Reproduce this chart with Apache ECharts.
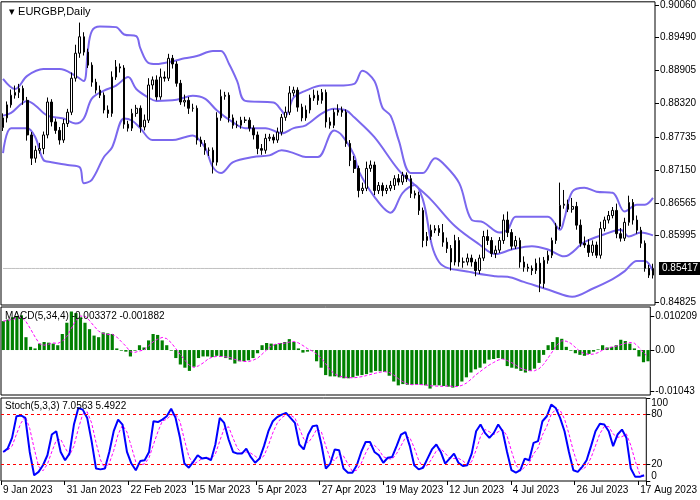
<!DOCTYPE html>
<html><head><meta charset="utf-8">
<script src="https://cdn.jsdelivr.net/npm/echarts@6/dist/echarts.min.js"></script>
<style>html,body{margin:0;padding:0;background:#fff}#c{width:700px;height:500px}</style>
</head><body><div id="c"></div>
<script>
// prices in units of 0.0001
const closes = [8807,8830,8847,8852,8859,8838,8777,8736,8750,8753,
8777,8835,8800,8785,8768,8797,8817,8877,8921,8950,
8923,8900,8870,8856,8847,8821,8815,8879,8897,8895,
8796,8789,8815,8824,8791,8803,8865,8874,8844,8879,
8877,8912,8902,8868,8835,8838,8824,8824,8768,8762,
8750,8750,8729,8807,8845,8847,8807,8794,8794,8803,
8803,8789,8777,8753,8750,8771,8773,8768,8782,8808,
8817,8851,8856,8826,8807,8821,8842,8847,8838,8852,
8800,8794,8817,8821,8817,8762,8732,8718,8679,8683,
8718,8724,8679,8688,8679,8683,8688,8700,8694,8706,
8700,8674,8671,8644,8591,8598,8609,8612,8605,8588,
8577,8553,8591,8553,8553,8560,8553,8538,8560,8598,
8591,8568,8574,8591,8627,8605,8581,8591,8553,8544,
8542,8538,8551,8515,8556,8565,8591,8616,8653,8655,
8646,8651,8618,8586,8583,8570,8583,8565,8612,8627,
8635,8644,8603,8595,8623,8658,8627,8609,8586,8542,
8530,8542];
const opens = [8790,8807,8830,8847,8852,8859,8838,8777,8736,8750,
8753,8777,8835,8800,8785,8768,8797,8817,8877,8921,
8950,8923,8900,8870,8856,8847,8821,8815,8879,8897,
8895,8796,8789,8815,8824,8791,8803,8865,8874,8844,
8879,8877,8912,8902,8868,8835,8838,8824,8824,8768,
8762,8750,8750,8729,8807,8845,8847,8807,8794,8794,
8803,8803,8789,8777,8753,8750,8771,8773,8768,8782,
8808,8817,8851,8856,8826,8807,8821,8842,8847,8838,
8852,8800,8794,8817,8821,8817,8762,8732,8718,8679,
8683,8718,8724,8679,8688,8679,8683,8688,8700,8694,
8706,8700,8674,8671,8644,8591,8598,8609,8612,8605,
8588,8577,8553,8591,8553,8553,8560,8553,8538,8560,
8598,8591,8568,8574,8591,8627,8605,8581,8591,8553,
8544,8542,8538,8551,8515,8556,8565,8591,8616,8653,
8655,8646,8651,8618,8586,8583,8570,8583,8565,8612,
8627,8635,8644,8603,8595,8623,8658,8627,8609,8586,
8542,8530];
const upWick = [8,6,10,12,8,5,6,5,8,10, 6,8,5,6,6,8,6,10,15,25, 8,6,5,6,8,5,8,10,12,6,
5,6,8,6,5,10,12,6,8,15, 10,8,6,5,6,10,6,8,5,6, 6,5,5,10,12,6,5,6,8,6,
6,5,5,6,8,8,6,5,8,6, 10,12,6,5,6,8,6,10,8,6, 5,8,6,10,6,5,6,8,5,10,
12,8,6,6,5,6,8,6,8,6, 5,6,5,6,5,8,10,6,6,15, 8,6,10,6,8,8,6,5,6,10,
12,6,8,6,10,15,6,8,5,10, 6,5,8,10,6,8,5,6,40,25, 8,15,8,10,12,10,8,6,12,6,
8,6,12,10,8,12,6,8,6,5, 6,8];
const downWick = [6,8,5,6,10,8,10,12,8,6, 10,6,8,6,8,5,6,5,6,8, 6,5,8,6,5,6,8,6,5,8,
8,6,5,6,10,6,5,8,6,5, 6,5,8,6,5,8,10,6,8,6, 8,10,20,6,5,6,8,6,5,6,
5,6,8,10,8,6,5,6,5,6, 6,5,6,8,6,5,6,5,8,6, 10,6,5,6,8,6,10,8,12,6,
5,6,8,6,10,6,5,8,6,5, 6,8,6,8,12,10,6,5,6,8, 8,15,6,8,10,6,8,10,6,5,
8,6,8,5,6,8,6,5,10,8, 6,8,6,15,8,6,5,6,5,6, 5,6,8,6,5,8,6,5,6,5,
6,5,8,6,5,6,8,6,8,6, 5,6];
// Bollinger band points [bar index, price*1e4]
const bbUpper = [[0,8876],[3,8858],[6,8881],[10,8893],[14,8893],[18,8881],[20,8872],[21,8925],[22,8960],[24,8968],[28,8967],[30,8954],[33,8951],[34,8930],[36,8904],[38,8902],[42,8907],[45,8912],[48,8916],[52,8925],[54,8925],[56,8902],[58,8872],[60,8837],[67,8834],[69,8820],[70,8811],[72,8843],[75,8855],[79,8864],[83,8864],[87,8867],[89,8890],[92,8872],[94,8825],[96,8811],[98,8768],[101,8710],[104,8710],[107,8736],[109,8727],[113,8692],[116,8628],[119,8623],[123,8605],[125,8610],[127,8633],[131,8633],[135,8633],[138,8610],[139,8628],[141,8677],[144,8684],[147,8677],[151,8675],[154,8642],[157,8654],[159,8654],[161,8666]];
const bbMiddle = [[0,8811],[2,8816],[6,8837],[8,8829],[11,8811],[15,8806],[18,8797],[20,8806],[22,8841],[25,8855],[28,8864],[31,8879],[33,8858],[36,8843],[38,8837],[43,8839],[47,8846],[50,8841],[53,8820],[57,8799],[60,8789],[65,8789],[69,8780],[72,8789],[75,8794],[79,8815],[82,8823],[85,8820],[87,8808],[92,8773],[98,8715],[102,8689],[106,8663],[112,8616],[118,8584],[122,8567],[126,8575],[131,8581],[135,8575],[139,8563],[144,8588],[149,8602],[153,8610],[155,8598],[158,8605],[161,8600]];
const bbLower = [[0,8745],[2,8789],[6,8789],[8,8773],[10,8733],[12,8729],[16,8724],[19,8720],[20,8692],[22,8698],[25,8738],[27,8755],[30,8806],[32,8802],[34,8789],[37,8768],[42,8768],[45,8773],[47,8776],[50,8755],[52,8720],[54,8710],[57,8729],[62,8738],[66,8741],[69,8750],[72,8745],[75,8738],[78,8738],[82,8785],[84,8776],[87,8741],[88,8715],[92,8668],[96,8640],[99,8675],[102,8689],[104,8663],[108,8553],[116,8535],[122,8528],[125,8527],[129,8518],[136,8502],[141,8492],[146,8506],[151,8523],[154,8537],[157,8555],[159,8555],[161,8537]];
// MACD histogram, units of 0.0001 (read)
const macdHist = [90,95,102,105,108,40,10,5,20,25,23,20,15,50,85,120,115,102,85,65,45,40,55,52,50,5,-2,-5,-20,-2,15,8,30,50,47,30,15,-2,-25,-45,-55,-65,-52,-25,-20,-20,-22,-18,-20,-25,-30,-42,-35,-35,-32,-25,-10,15,22,20,18,22,25,34,25,5,-8,-5,-2,-35,-55,-78,-82,-82,-85,-88,-88,-85,-80,-78,-75,-70,-65,-66,-68,-80,-98,-110,-106,-108,-108,-107,-108,-110,-120,-110,-110,-112,-114,-117,-112,-98,-85,-70,-60,-55,-42,-30,-28,-25,-28,-50,-55,-58,-65,-70,-65,-58,-40,-15,15,25,40,35,10,-2,-10,-15,-18,-12,-5,2,15,8,10,15,32,28,20,5,-20,-38,-35];
// Stochastic %K (read)
const stochK = [35,39,52,78,79,76,35,7,11,19,31,56,60,35,25,33,68,88,86,76,48,15,14,15,35,60,74,68,35,21,13,24,25,35,72,71,74,78,87,76,52,21,16,23,31,27,28,25,44,76,70,50,35,33,33,39,29,22,27,42,60,72,77,80,82,76,70,44,38,56,66,67,44,15,21,38,37,15,10,10,19,35,47,47,35,31,22,28,29,42,56,59,42,19,14,16,27,38,44,35,21,27,33,22,18,19,33,60,68,58,52,58,68,60,35,13,10,13,27,25,46,48,72,78,92,88,76,60,35,13,11,17,25,42,60,69,68,60,42,56,62,52,15,5,5,7];
const dateLabels = ['9 Jan 2023','31 Jan 2023','22 Feb 2023','15 Mar 2023','5 Apr 2023','27 Apr 2023','19 May 2023','12 Jun 2023','4 Jul 2023','26 Jul 2023','17 Aug 2023'];
const priceTicks = [0.90060,0.89490,0.88905,0.88320,0.87735,0.87150,0.86565,0.85995,0.84825];
const lastPrice = 0.85417;

const P = v => v / 10000;
const cats = closes.map((_, i) => String(i));
const candles = closes.map((c, i) => {
  const o = opens[i];
  return [P(o), P(c), P(Math.min(o, c) - downWick[i]), P(Math.max(o, c) + upWick[i])];
});
const bb = arr => arr.map(p => [p[0], P(p[1])]);
const sma = (arr, n) => arr.map((_, i) => { const s = arr.slice(Math.max(0, i - n + 1), i + 1); return +(s.reduce((a, b) => a + b, 0) / s.length).toFixed(2); });
const macdSig = sma(macdHist, 4);
const stochD = sma(stochK, 3);

const F = 'Liberation Sans, Arial, sans-serif';
const lab = {color: '#000', fontFamily: F, fontSize: 10, margin: 5};
const ch = echarts.init(document.getElementById('c'), null, {renderer: 'canvas'});
const grid = (top, height) => ({left: 1, right: 45, top, height, show: true, borderColor: '#000', borderWidth: 1, backgroundColor: '#fff'});
ch.setOption({
  animation: false,
  title: {text: '▾ EURGBP,Daily', left: 4, top: 1, textStyle: {fontFamily: F, fontSize: 11, fontWeight: 'normal', color: '#000'}},
  grid: [grid(1, 304), grid(307, 88), grid(398, 83)],
  xAxis: [
    {type: 'category', gridIndex: 0, data: cats, boundaryGap: true, axisLine: {show: false}, axisTick: {show: false}, axisLabel: {show: false}},
    {type: 'category', gridIndex: 1, data: macdHist.map((_, i) => i), boundaryGap: true, axisLine: {show: false}, axisTick: {show: false}, axisLabel: {show: false}},
    {type: 'category', gridIndex: 2, position: 'top', data: stochK.map((_, i) => i), boundaryGap: true, axisLine: {show: false}, axisTick: {show: false}, axisLabel: {show: false}},
    {type: 'category', gridIndex: 2, position: 'bottom', data: cats, boundaryGap: true, axisLine: {show: false},
      axisTick: {show: true, interval: i => i % 16 === 0, length: 4, lineStyle: {color: '#000'}},
      axisLabel: {...lab, interval: i => i % 16 === 0, align: 'left', margin: 4, formatter: (v) => dateLabels[+v / 16] || ''}}
  ],
  yAxis: [
    {type: 'value', gridIndex: 0, position: 'right', min: 0.84773, max: 0.90116, splitLine: {show: false},
      axisLine: {show: false}, axisTick: {show: true, customValues: priceTicks, length: 4, lineStyle: {color: '#000'}},
      axisLabel: {...lab, customValues: priceTicks, formatter: v => v.toFixed(5)}},
    {type: 'value', gridIndex: 1, position: 'right', min: -140, max: 134, splitLine: {show: false},
      axisLine: {show: false}, axisTick: {show: true, customValues: [106, 0, -128], length: 4, lineStyle: {color: '#000'}},
      axisLabel: {...lab, customValues: [106, 0, -128], formatter: v => v === 0 ? '0.00' : (v > 0 ? '0.010209' : '-0.01043')}},
    {type: 'value', gridIndex: 2, position: 'right', min: 0, max: 100, splitLine: {show: false},
      axisLine: {show: false}, axisTick: {show: true, customValues: [0, 20, 80, 100], length: 4, lineStyle: {color: '#000'}},
      axisLabel: {...lab, customValues: [0, 20, 80, 100], verticalAlignMaxLabel: 'top', verticalAlignMinLabel: 'bottom'}}
  ],
  series: [
    {type: 'line', xAxisIndex: 0, yAxisIndex: 0, data: closes.map(() => lastPrice), symbol: 'none', z: 0,
      lineStyle: {color: '#C0C0C0', width: 1},
      endLabel: {show: true, formatter: lastPrice.toFixed(5), backgroundColor: '#000', color: '#fff', fontFamily: F, fontSize: 10, padding: [2, 3, 1, 3], distance: 6}},
    {type: 'candlestick', xAxisIndex: 0, yAxisIndex: 0, data: candles, barMaxWidth: 3,
      itemStyle: {color: '#fff', color0: '#000', borderColor: '#000', borderColor0: '#000', borderWidth: 1}},
    ...[bbUpper, bbMiddle, bbLower].map(b => ({type: 'line', xAxisIndex: 0, yAxisIndex: 0, data: bb(b), smooth: 0.35, symbol: 'none', lineStyle: {color: '#7B68EE', width: 2}, z: 1})),
    {type: 'bar', xAxisIndex: 1, yAxisIndex: 1, data: macdHist, barWidth: '70%', itemStyle: {color: '#008000'}},
    {type: 'line', xAxisIndex: 1, yAxisIndex: 1, data: macdSig, symbol: 'none', lineStyle: {color: '#FF00FF', width: 1, type: [3, 2]}},
    {type: 'line', xAxisIndex: 2, yAxisIndex: 2, data: stochD, symbol: 'none', lineStyle: {color: '#FF00FF', width: 1, type: [3, 2]}},
    {type: 'line', xAxisIndex: 2, yAxisIndex: 2, data: stochK, symbol: 'none', lineStyle: {color: '#0000FF', width: 2},
      markLine: {silent: true, symbol: 'none', label: {show: false}, lineStyle: {color: '#FF0000', type: [3, 3], width: 1}, data: [{yAxis: 20}, {yAxis: 80}]}}
  ],
  graphic: [
    {type: 'text', left: 5, top: 311, style: {text: 'MACD(5,34,4) -0.003372 -0.001882', font: '10px ' + F, fill: '#000'}, z: 100},
    {type: 'text', left: 5, top: 401, style: {text: 'Stoch(5,3,3) 7.0563 5.4922', font: '10px ' + F, fill: '#000'}, z: 100}
  ]
});
</script></body></html>
